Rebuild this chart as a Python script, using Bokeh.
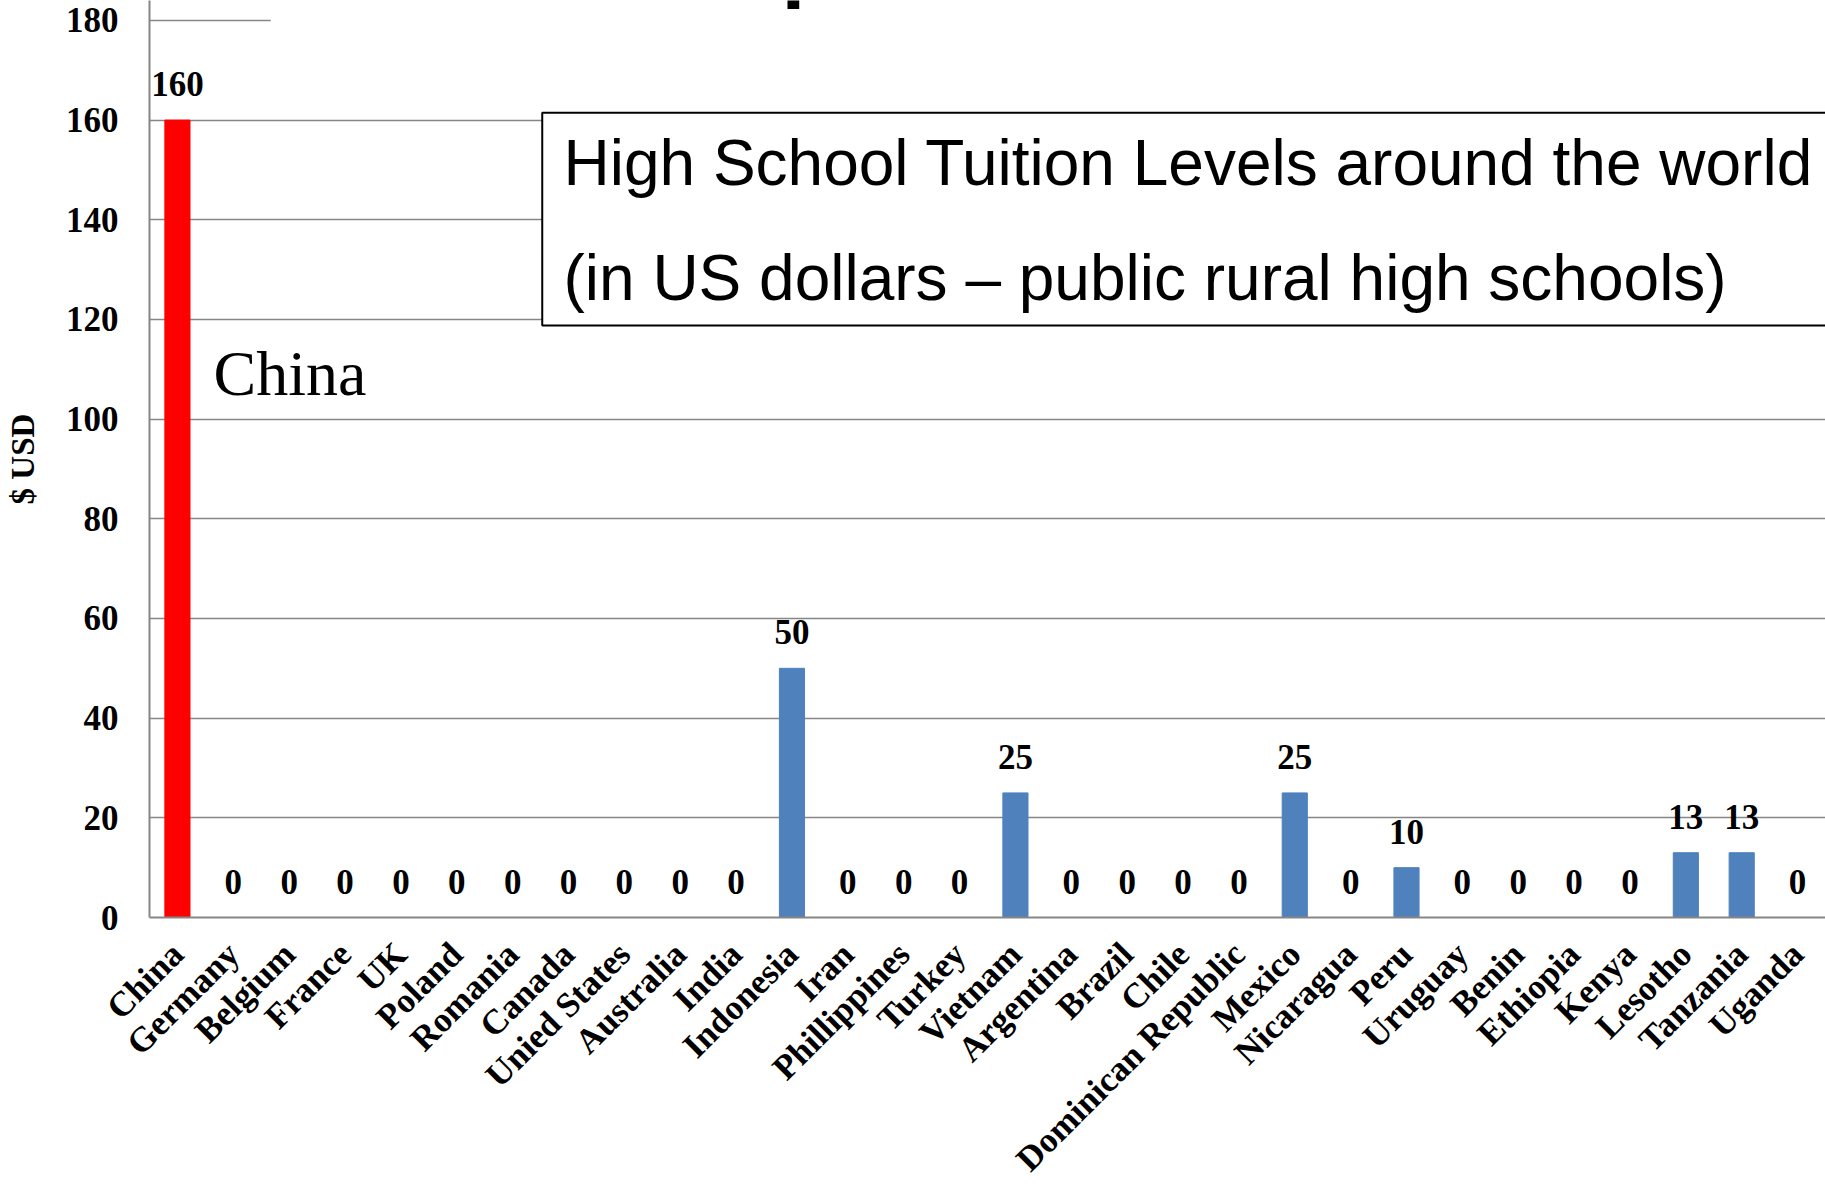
import math
from bokeh.plotting import figure
from bokeh.models import (ColumnDataSource, FactorRange, Range1d, BoxAnnotation, Label,
                          FixedTicker)
from bokeh.core.properties import value
from bokeh.embed import file_html
from bokeh.resources import INLINE

countries = ["China", "Germany", "Belgium", "France", "UK", "Poland", "Romania", "Canada",
             "Unied States", "Australia", "India", "Indonesia", "Iran", "Phillippines", "Turkey",
             "Vietnam", "Argentina", "Brazil", "Chile", "Dominican Republic", "Mexico", "Nicaragua",
             "Peru", "Uruguay", "Benin", "Ethiopia", "Kenya", "Lesotho", "Tanzania", "Uganda"]
tuition = [160, 0, 0, 0, 0, 0, 0, 0, 0, 0, 0, 50, 0, 0, 0, 25, 0, 0, 0, 0, 25, 0, 10, 0, 0, 0, 0, 13, 13, 0]
highlight = "China"
y_ticks = [0, 20, 40, 60, 80, 100, 120, 140, 160, 180]
y_title = "$ USD"
box_line1 = "High School Tuition Levels around the world"
box_line2 = "(in US dollars \u2013 public rural high schools)"
callout = "China"

colors = ["#FF0000" if c == highlight else "#4F81BD" for c in countries]
labels = [str(v) for v in tuition]
src = ColumnDataSource(dict(x=countries, top=tuition, color=colors, label=labels))

p = figure(width=1825, height=1195, x_range=FactorRange(*countries), y_range=Range1d(0, 184),
           output_backend="svg", toolbar_location=None,
           min_border_left=149, min_border_right=0, min_border_top=0, min_border_bottom=278)
p.outline_line_color = None
p.background_fill_color = "white"

p.vbar(x="x", top="top", width=0.45, color="color", source=src)
p.text(x="x", y="top", text="label", source=src, text_align="center", text_baseline="middle",
       y_offset=-36, text_font=value("Liberation Serif"), text_font_style="bold",
       text_font_size="35px", text_color="black")

# y axis
p.yaxis.ticker = FixedTicker(ticks=y_ticks)
p.yaxis.major_tick_out = 0
p.yaxis.major_tick_in = 0
p.yaxis.minor_tick_out = 0
p.yaxis.minor_tick_in = 0
p.yaxis.axis_line_color = "#868686"
p.yaxis.axis_line_width = 2
p.yaxis.major_label_text_font = "Liberation Serif"
p.yaxis.major_label_text_font_style = "bold"
p.yaxis.major_label_text_font_size = "35px"
p.yaxis.major_label_text_color = "black"
p.yaxis.major_label_standoff = 31
p.yaxis.axis_label = y_title
p.yaxis.axis_label_text_font = "Liberation Serif"
p.yaxis.axis_label_text_font_style = "bold"
p.yaxis.axis_label_text_font_size = "33px"
p.yaxis.axis_label_text_color = "black"
p.yaxis.axis_label_standoff = 22

# x axis
p.xaxis.major_tick_out = 0
p.xaxis.major_tick_in = 0
p.xaxis.axis_line_color = "#868686"
p.xaxis.axis_line_width = 2
p.xaxis.major_label_orientation = math.pi / 4
p.xaxis.major_label_text_font = "Liberation Serif"
p.xaxis.major_label_text_font_style = "bold"
p.xaxis.major_label_text_font_size = "35px"
p.xaxis.major_label_text_color = "black"
p.xaxis.major_label_standoff = 31

p.xgrid.grid_line_color = None
p.ygrid.ticker = FixedTicker(ticks=y_ticks)
p.ygrid.grid_line_color = "#868686"
p.ygrid.grid_line_width = 1.5

# white area hiding most of the top gridline
p.add_layout(BoxAnnotation(left=2.17, right=31, bottom=178, top=185, fill_color="white",
                           fill_alpha=1, line_color=None))
# fragment of a cut-off heading at the top edge
p.add_layout(BoxAnnotation(left=11.42, right=11.63, bottom=182.3, top=185, fill_color="black",
                           fill_alpha=1, line_color=None))
# caption box
p.add_layout(BoxAnnotation(left=7.03, right=30.5, bottom=118.8, top=161.5, fill_color="white",
                           fill_alpha=1, line_color="black", line_alpha=1, line_width=2))
p.add_layout(Label(x=7.41, y=151.3, text=box_line1, text_font="Liberation Sans",
                   text_font_size="64px", text_color="black", text_baseline="middle"))
p.add_layout(Label(x=7.41, y=128.4, text=box_line2, text_font="Liberation Sans",
                   text_font_size="64px", text_color="black", text_baseline="middle"))
p.add_layout(Label(x=1.145, y=109.1, text=callout, text_font="Liberation Serif",
                   text_font_size="64px", text_color="black", text_baseline="middle"))

open("out.html", "w").write(file_html(p, INLINE))
